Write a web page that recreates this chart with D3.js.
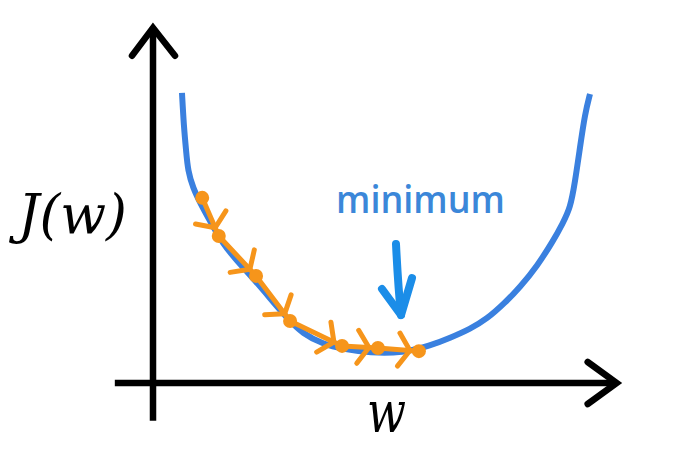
<!DOCTYPE html>
<html><head><meta charset="utf-8">
<script src="https://cdn.jsdelivr.net/npm/d3@7"></script>
<style>html,body{margin:0;padding:0;background:#fff;}svg{display:block;}</style>
</head><body>
<svg id="chart" width="674" height="452"></svg>
<script>
// cost curve J(w) (w in 0..100, J in 0..100)
const curveW = [6.3,6.7,7.2,7.6,8.7,10.4,12.4,15.2,18.3,21.7,25.4,29.1,32.6,37.0,41.3,47.2,54.3,60.2,64.6,68.9,72.6,76.5,79.8,83.5,87.0,89.1,90.7,91.7,92.8,93.9,95.0];
const curveJ = [82.9,73.4,66.3,60.6,55.7,51.1,46.3,39.7,34.9,30.0,24.3,18.6,14.0,11.1,9.7,8.6,8.6,10.6,12.9,15.4,18.3,22.9,27.4,33.4,40.6,45.7,50.0,57.1,67.1,76.9,82.6];
// gradient descent steps
const stepW = [10.7,14.3,22.4,29.8,41.1,48.9,57.8];
const stepJ = [52.9,42.0,30.6,17.7,10.6,10.0,9.1];
const labels = {y:"J(w)", x:"w", note:"minimum"};

const svg = d3.select("#chart");
const x = d3.scaleLinear().domain([0,100]).range([153,613]);
const y = d3.scaleLinear().domain([0,100]).range([383,33]);

const ORANGE = "#f6951b", BLUE = "#3a80df", ABLUE = "#1b8de8";

// axes
const line = d3.line().x(d=>x(d[0])).y(d=>y(d[1]));
svg.append("path").attr("d", line([[0,-10.8],[0,101.5]]))
  .attr("stroke","#000").attr("stroke-width",6.5).attr("fill","none");
svg.append("path").attr("d", line([[-8.3,0],[100.8,0]]))
  .attr("stroke","#000").attr("stroke-width",6.5).attr("fill","none");
const ty = [x(0), y(101.5)];
svg.append("path").attr("d", d3.line()([[ty[0]-21,ty[1]+28],ty,[ty[0]+22,ty[1]+28]]))
  .attr("stroke","#000").attr("stroke-width",6.5).attr("fill","none")
  .attr("stroke-linecap","round").attr("stroke-linejoin","miter");
const tx = [x(100.8), y(0)];
svg.append("path").attr("d", d3.line()([[tx[0]-29,tx[1]-21],tx,[tx[0]-29,tx[1]+21]]))
  .attr("stroke","#000").attr("stroke-width",6.5).attr("fill","none")
  .attr("stroke-linecap","round").attr("stroke-linejoin","miter");

// blue cost curve
const pts = curveW.map((w,i)=>[w,curveJ[i]]);
svg.append("path").attr("d", d3.line().x(d=>x(d[0])).y(d=>y(d[1])).curve(d3.curveBasis)(pts))
  .attr("stroke",BLUE).attr("stroke-width",6).attr("fill","none").attr("stroke-linecap","butt");

// descent path
const sp = stepW.map((w,i)=>[x(w),y(stepJ[i])]);
svg.append("path").attr("d", d3.line()(sp))
  .attr("stroke",ORANGE).attr("stroke-width",5).attr("fill","none").attr("stroke-linejoin","round");
for(let i=1;i<sp.length;i++){
  const [x0,y0]=sp[i-1],[x1,y1]=sp[i];
  const L=Math.hypot(x1-x0,y1-y0), ux=(x1-x0)/L, uy=(y1-y0)/L;
  const ax=x1-ux*9, ay=y1-uy*9;
  const arm=20, ang=Math.PI*0.31;
  const c=Math.cos(ang), s=Math.sin(ang);
  const bx=-ux, by=-uy;
  const a1=[ax+arm*(bx*c - by*s), ay+arm*(bx*s + by*c)];
  const a2=[ax+arm*(bx*c + by*s), ay+arm*(-bx*s + by*c)];
  svg.append("path").attr("d", d3.line()([a1,[ax,ay],a2]))
    .attr("stroke",ORANGE).attr("stroke-width",5).attr("fill","none")
    .attr("stroke-linecap","round").attr("stroke-linejoin","round");
}
svg.selectAll("circle.step").data(sp).join("circle").attr("class","step")
  .attr("cx",d=>d[0]).attr("cy",d=>d[1]).attr("r",7).attr("fill",ORANGE);

// labels
svg.append("text").attr("x",18).attr("y",233).text(labels.y)
  .attr("font-family","DejaVu Serif").attr("font-style","italic").attr("font-size",54)
  .attr("textLength",109).attr("lengthAdjust","spacingAndGlyphs").attr("fill","#000");
svg.append("text").attr("x",367).attr("y",432).text(labels.x)
  .attr("font-family","DejaVu Serif").attr("font-style","italic").attr("font-size",57)
  .attr("textLength",39).attr("lengthAdjust","spacingAndGlyphs").attr("fill","#000");
svg.append("text").attr("x",336).attr("y",213).text(labels.note)
  .attr("font-family","Open Sans").attr("font-weight",600).attr("font-size",37)
  .attr("textLength",169).attr("lengthAdjust","spacingAndGlyphs").attr("fill","#3b87d9");

// annotation arrow
svg.append("path").attr("d","M396,244 Q398,285 401,315")
  .attr("stroke",ABLUE).attr("stroke-width",8).attr("fill","none").attr("stroke-linecap","round");
svg.append("path").attr("d","M382,289 L401,315 L412,278")
  .attr("stroke",ABLUE).attr("stroke-width",8).attr("fill","none")
  .attr("stroke-linecap","round").attr("stroke-linejoin","round");
</script>
</body></html>
